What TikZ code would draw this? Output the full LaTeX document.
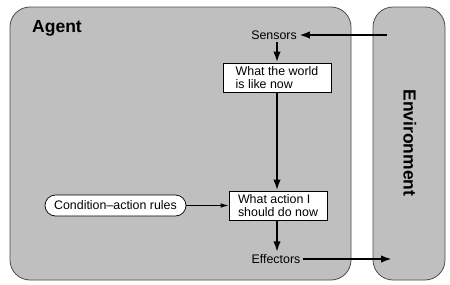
\documentclass[tikz,border=0pt]{standalone}
\usepackage{fontspec}
\setmainfont{Liberation Sans}
\usetikzlibrary{arrows.meta,shapes.misc}
\definecolor{panelgray}{gray}{0.75}
\definecolor{edgegray}{gray}{0.3}
\begin{document}
\begin{tikzpicture}[x=1pt, y=-1pt,
    panel/.style={draw=edgegray, fill=panelgray, line width=0.8pt, rounded corners=20pt},
    txt/.style={font=\fontsize{12.4}{13}\selectfont, inner sep=2pt},
    state/.style={txt, draw, fill=white, line width=0.7pt, align=left, minimum width=108pt, minimum height=29pt},
    rulebox/.style={txt, draw, fill=white, rounded rectangle, line width=0.7pt, minimum width=145pt, minimum height=21pt},
    flow/.style={line width=2.8pt, -{Latex[length=11pt,width=7.5pt]}},
    thinflow/.style={line width=0.8pt, -{Latex[length=8pt,width=4.5pt]}},
    title/.style={font=\bfseries\fontsize{17.5}{20}\selectfont}]
    \useasboundingbox (0,0) rectangle (450,284);

    % agent and environment
    \draw[panel] (10,7) rectangle (351,280);
    \draw[panel] (373,7) rectangle (445,280);
    \node[title, anchor=base west, inner sep=0pt] (agent) at (32,32) {Agent};
    \node[title, rotate=-90] (env) at (410,143) {Environment};

    % inside the agent
    \node[txt] (sensors) at (274,35) {Sensors};
    \node[state] (world) at (277,77.5) {What the world\\is like now};
    \node[state, minimum width=98pt] (action) at (278,205.5) {What action I\\should do now};
    \node[rulebox] (rules) at (115.5,205.5) {Condition--action rules};
    \node[txt] (effectors) at (276,259) {Effectors};

    % percepts in, actions out
    \coordinate (percept) at (387,35);
    \coordinate (act) at (392,259);

    \draw[flow] (percept) -- (sensors.east);
    \draw[flow] (sensors.south -| world.north) -- (world.north);
    \draw[flow] (world.south) -- (world.south |- action.north);
    \draw[thinflow] (rules.east) -- (action.west);
    \draw[flow] (world.south |- action.south) -- (world.south |- effectors.north);
    \draw[flow] (effectors.east) -- (act);
\end{tikzpicture}
\end{document}
